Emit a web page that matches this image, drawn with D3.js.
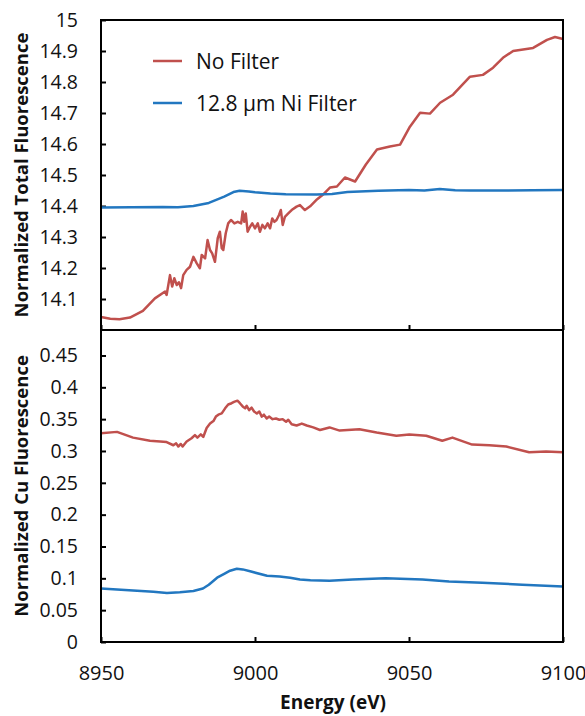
<!DOCTYPE html>
<html>
<head>
<meta charset="utf-8">
<script src="https://cdn.jsdelivr.net/npm/d3@7"></script>
<style>
  body { margin: 0; background: #fff; }
  text { font-family: "Open Sans", sans-serif; fill: #111; }
</style>
</head>
<body>
<div id="chart"></div>
<script>
// Series: [energy eV, normalized value]
const totalNoFilter = [
  [8950, 14.042], [8953, 14.036], [8956, 14.035], [8959.4, 14.040], [8963.6, 14.062],
  [8967.5, 14.102], [8970.8, 14.124], [8971.3, 14.113], [8972.4, 14.177], [8973.1, 14.140],
  [8973.8, 14.167], [8974.6, 14.145], [8975.3, 14.154], [8976.0, 14.135], [8976.7, 14.177],
  [8977.8, 14.194], [8978.9, 14.204], [8980.0, 14.236], [8981.1, 14.215], [8982.1, 14.199],
  [8982.7, 14.242], [8983.8, 14.231], [8984.6, 14.290], [8985.4, 14.258], [8986.1, 14.247],
  [8987.0, 14.220], [8987.9, 14.296], [8988.6, 14.317], [8989.2, 14.264], [8989.7, 14.258],
  [8990.5, 14.312], [8991.3, 14.344], [8992.2, 14.355], [8993.3, 14.344], [8994.4, 14.349],
  [8995.5, 14.344], [8996.0, 14.382], [8996.5, 14.349], [8997.0, 14.376], [8997.6, 14.317],
  [8998.4, 14.333], [8999.1, 14.344], [9000.0, 14.328], [9000.9, 14.344], [9001.6, 14.317],
  [9002.4, 14.339], [9003.2, 14.328], [9004.1, 14.344], [9004.9, 14.328], [9005.6, 14.360],
  [9006.3, 14.349], [9007.0, 14.355], [9007.8, 14.371], [9008.4, 14.387], [9009.0, 14.339],
  [9009.7, 14.365], [9010.8, 14.376], [9011.9, 14.387], [9013.5, 14.398], [9014.6, 14.403],
  [9016.2, 14.387], [9017.9, 14.399], [9020.1, 14.421], [9022.1, 14.437], [9024.4, 14.460],
  [9026.6, 14.463], [9029.2, 14.492], [9032.5, 14.479], [9036.0, 14.534], [9039.6, 14.582],
  [9043.8, 14.592], [9047.1, 14.598], [9050.3, 14.656], [9053.6, 14.701], [9056.8, 14.698],
  [9060.1, 14.733], [9064.3, 14.759], [9069.8, 14.817], [9074.0, 14.823], [9077.3, 14.846],
  [9080.5, 14.878], [9083.8, 14.900], [9090.3, 14.910], [9094.8, 14.936], [9097.4, 14.945],
  [9100, 14.939]
];

const totalNiFilter = [
  [8950, 14.395], [8960, 14.396], [8970, 14.397], [8975, 14.396], [8980, 14.400],
  [8985, 14.410], [8990, 14.430], [8993, 14.445], [8995, 14.449], [8998, 14.447],
  [9000, 14.444], [9005, 14.440], [9010, 14.438], [9020, 14.437], [9025, 14.439],
  [9030, 14.445], [9040, 14.449], [9050, 14.452], [9055, 14.450], [9060, 14.455],
  [9065, 14.451], [9070, 14.450], [9080, 14.450], [9090, 14.451], [9100, 14.452]
];

const cuNoFilter = [
  [8950, 0.328], [8955.2, 0.330], [8960.4, 0.321], [8965.9, 0.316], [8969.2, 0.315],
  [8971.3, 0.314], [8973.5, 0.309], [8974.4, 0.312], [8975.1, 0.307], [8975.9, 0.311],
  [8976.5, 0.307], [8977.8, 0.315], [8979.4, 0.320], [8980.5, 0.325], [8981.3, 0.321],
  [8982.4, 0.326], [8983.2, 0.322], [8984.3, 0.336], [8985.4, 0.343], [8986.5, 0.347],
  [8987.3, 0.354], [8988.1, 0.357], [8989.2, 0.359], [8990.3, 0.367], [8991.3, 0.373],
  [8992.4, 0.375], [8993.2, 0.377], [8994.3, 0.379], [8995.1, 0.375], [8996.0, 0.370],
  [8996.8, 0.367], [8997.3, 0.371], [8998.1, 0.364], [8998.9, 0.368], [8999.7, 0.362],
  [9000.6, 0.359], [9001.4, 0.362], [9002.2, 0.354], [9002.9, 0.357], [9003.8, 0.351],
  [9004.6, 0.354], [9005.7, 0.350], [9006.8, 0.351], [9007.9, 0.349], [9009.0, 0.350],
  [9010.1, 0.346], [9010.8, 0.349], [9011.9, 0.342], [9013.5, 0.340], [9015.2, 0.343],
  [9016.8, 0.340], [9018.9, 0.337], [9021.1, 0.333], [9024.2, 0.337], [9027.5, 0.332],
  [9033.9, 0.334], [9039.5, 0.329], [9045.9, 0.324], [9050.1, 0.326], [9055.6, 0.324],
  [9060.8, 0.316], [9064.1, 0.321], [9070.5, 0.310], [9076.1, 0.309], [9081.6, 0.307],
  [9089.0, 0.298], [9094.5, 0.299], [9100, 0.298]
];

const cuNiFilter = [
  [8950, 0.084], [8960.4, 0.081], [8967, 0.079], [8971.4, 0.077], [8975.6, 0.078],
  [8980, 0.080], [8983.1, 0.084], [8985, 0.090], [8987.7, 0.101], [8990, 0.107],
  [8991.9, 0.112], [8994.1, 0.115], [8996, 0.114], [8998.4, 0.111], [9003.9, 0.104],
  [9008, 0.103], [9011.4, 0.101], [9014.6, 0.098], [9018, 0.097], [9024.2, 0.096],
  [9031.7, 0.098], [9042.4, 0.100], [9054.4, 0.098], [9063, 0.095], [9073.8, 0.093],
  [9086.8, 0.090], [9100, 0.087]
];

const seriesNames = ["No Filter", "12.8 \u03bcm Ni Filter"];
const seriesColors = ["#c0504d", "#2277c0"];
const xTicks = [8950, 9000, 9050, 9100];
const topTicks = [14.1, 14.2, 14.3, 14.4, 14.5, 14.6, 14.7, 14.8, 14.9, 15];
const bottomTicks = [0, 0.05, 0.1, 0.15, 0.2, 0.25, 0.3, 0.35, 0.4, 0.45];

const width = 585, height = 716;
const left = 101, right = 563;
const topPanel = [20, 330], bottomPanel = [330, 642];

const svg = d3.select("#chart").append("svg")
  .attr("width", width)
  .attr("height", height);

svg.append("rect").attr("width", width).attr("height", height).attr("fill", "#fff");

const x = d3.scaleLinear().domain([8950, 9100]).range([left, right]);
const yTop = d3.scaleLinear().domain([14.0, 15]).range([topPanel[1], topPanel[0]]);
const yBot = d3.scaleLinear().domain([0, 0.49]).range([bottomPanel[1], bottomPanel[0]]);

const fmt = d => String(+d.toFixed(2));

function drawPanel(y, ticks, series, range, showXLabels) {
  // y axis, ticks pointing inward
  const ya = svg.append("g")
    .attr("transform", `translate(${left},0)`)
    .call(d3.axisLeft(y).tickValues(ticks).tickFormat(fmt).tickSize(-5).tickPadding(23));
  ya.select(".domain").remove();
  ya.selectAll("line").attr("stroke", "#000").attr("stroke-width", 2);
  ya.selectAll("text").style("font-size", "19.5px").attr("fill", "#111");

  // x axis at panel bottom, inner ticks
  const xa = svg.append("g")
    .attr("transform", `translate(0,${range[1]})`)
    .call(d3.axisBottom(x).tickValues(xTicks).tickFormat(showXLabels ? d3.format("d") : "")
      .tickSize(-5).tickPadding(24));
  xa.select(".domain").remove();
  xa.selectAll("line").attr("stroke", "#000").attr("stroke-width", 2);
  xa.selectAll("text").style("font-size", "20px").attr("fill", "#111");

  const line = d3.line().x(d => x(d[0])).y(d => y(d[1]));
  series.forEach((s, i) => {
    svg.append("path")
      .datum(s)
      .attr("fill", "none")
      .attr("stroke", seriesColors[i])
      .attr("stroke-width", 2.5)
      .attr("stroke-linejoin", "round")
      .attr("d", line);
  });

  // frame
  svg.append("rect")
    .attr("x", left).attr("y", range[0])
    .attr("width", right - left).attr("height", range[1] - range[0])
    .attr("fill", "none").attr("stroke", "#000").attr("stroke-width", 2);
}

drawPanel(yTop, topTicks, [totalNoFilter, totalNiFilter], topPanel, false);
drawPanel(yBot, bottomTicks, [cuNoFilter, cuNiFilter], bottomPanel, true);

// legend
const legend = svg.append("g");
seriesNames.forEach((name, i) => {
  const ly = 61 + i * 42;
  legend.append("line")
    .attr("x1", 153).attr("x2", 182).attr("y1", ly).attr("y2", ly)
    .attr("stroke", seriesColors[i]).attr("stroke-width", 2.5);
  legend.append("text")
    .attr("x", 196).attr("y", ly + 7.5)
    .style("font-size", "21px")
    .text(name);
});

// axis titles
svg.append("text")
  .attr("x", (left + right) / 2 + 1).attr("y", 709)
  .attr("text-anchor", "middle")
  .style("font-size", "19px").style("font-weight", "bold")
  .text("Energy (eV)");

svg.append("text")
  .attr("transform", `translate(28,${(topPanel[0] + topPanel[1]) / 2}) rotate(-90)`)
  .attr("text-anchor", "middle")
  .style("font-size", "18.5px").style("font-weight", "bold")
  .text("Normalized Total Fluorescence");

svg.append("text")
  .attr("transform", `translate(28,${(bottomPanel[0] + bottomPanel[1]) / 2}) rotate(-90)`)
  .attr("text-anchor", "middle")
  .style("font-size", "18.5px").style("font-weight", "bold")
  .text("Normalized Cu Fluorescence");
</script>
</body>
</html>
